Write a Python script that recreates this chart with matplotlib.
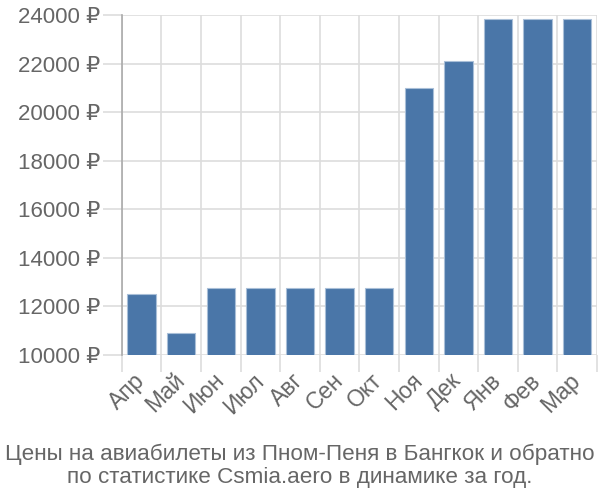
import numpy as np
import matplotlib
matplotlib.use("Agg")
import matplotlib.pyplot as plt
import matplotlib.transforms as mtransforms
from matplotlib.ticker import FixedLocator, FuncFormatter

plt.rcParams['font.family'] = ['Liberation Sans', 'DejaVu Sans']

# Monthly prices (RUB)
months = ["Апр", "Май", "Июн", "Июл", "Авг", "Сен", "Окт", "Ноя", "Дек", "Янв", "Фев", "Мар"]
prices = [12500, 10900, 12750, 12750, 12750, 12750, 12750, 21000, 22100, 23850, 23850, 23850]
y_ticks = [10000, 12000, 14000, 16000, 18000, 20000, 22000, 24000]
title = "Цены на авиабилеты из Пном-Пеня в Бангкок и обратно\nпо статистике Csmia.aero в динамике за год."

grid_color = "#dddddd"
text_color = "#666666"

fig = plt.figure(figsize=(6, 5), dpi=100)
ax = fig.add_axes([0.203, 0.29, 0.792, 0.68])

x = np.arange(len(months))
ax.bar(x, prices, width=0.72, color="#4a76a8", edgecolor="#a9bfd8", linewidth=0.8, zorder=3)

ax.set_xlim(-0.5, len(months) - 0.5)
ax.set_ylim(10000, 24000)

# major ticks on x carry the labels, minor ticks mark the boundaries (grid)
ax.set_xticks(x)
ax.set_xticklabels(months, rotation=45, ha="right", rotation_mode="anchor")
ax.xaxis.set_minor_locator(FixedLocator(np.arange(-0.5, len(months), 1.0)))
ax.tick_params(axis="x", which="major", length=0, pad=10, labelsize=16.5, labelcolor=text_color)
ax.tick_params(axis="x", which="minor", length=12.5, color=grid_color, width=1.2)
ax.grid(axis="x", which="minor", color=grid_color, linewidth=1.2, zorder=0)
shift = mtransforms.ScaledTranslation(-6 / 72, 0, fig.dpi_scale_trans)
for lbl in ax.get_xticklabels():
    lbl.set_transform(lbl.get_transform() + shift)

ax.set_yticks(y_ticks)
ax.yaxis.set_major_formatter(FuncFormatter(lambda v, p: f"{int(v)} ₽"))
ax.tick_params(axis="y", length=14, color=grid_color, width=1.2, pad=1.5, labelsize=16, labelcolor=text_color)
ax.grid(axis="y", color=grid_color, linewidth=1.2, zorder=0)

for side in ["top", "right", "bottom"]:
    ax.spines[side].set_visible(False)
ax.spines["left"].set_color("#aaaaaa")
ax.spines["left"].set_linewidth(1.2)
ax.spines["left"].set_bounds(10000, 24000)
ax.spines["left"].set_zorder(4)

fig.text(0.5, 0.025, title, ha="center", va="bottom", fontsize=16.2, color=text_color,
         linespacing=1.1)

fig.savefig("out.png", dpi=100)
